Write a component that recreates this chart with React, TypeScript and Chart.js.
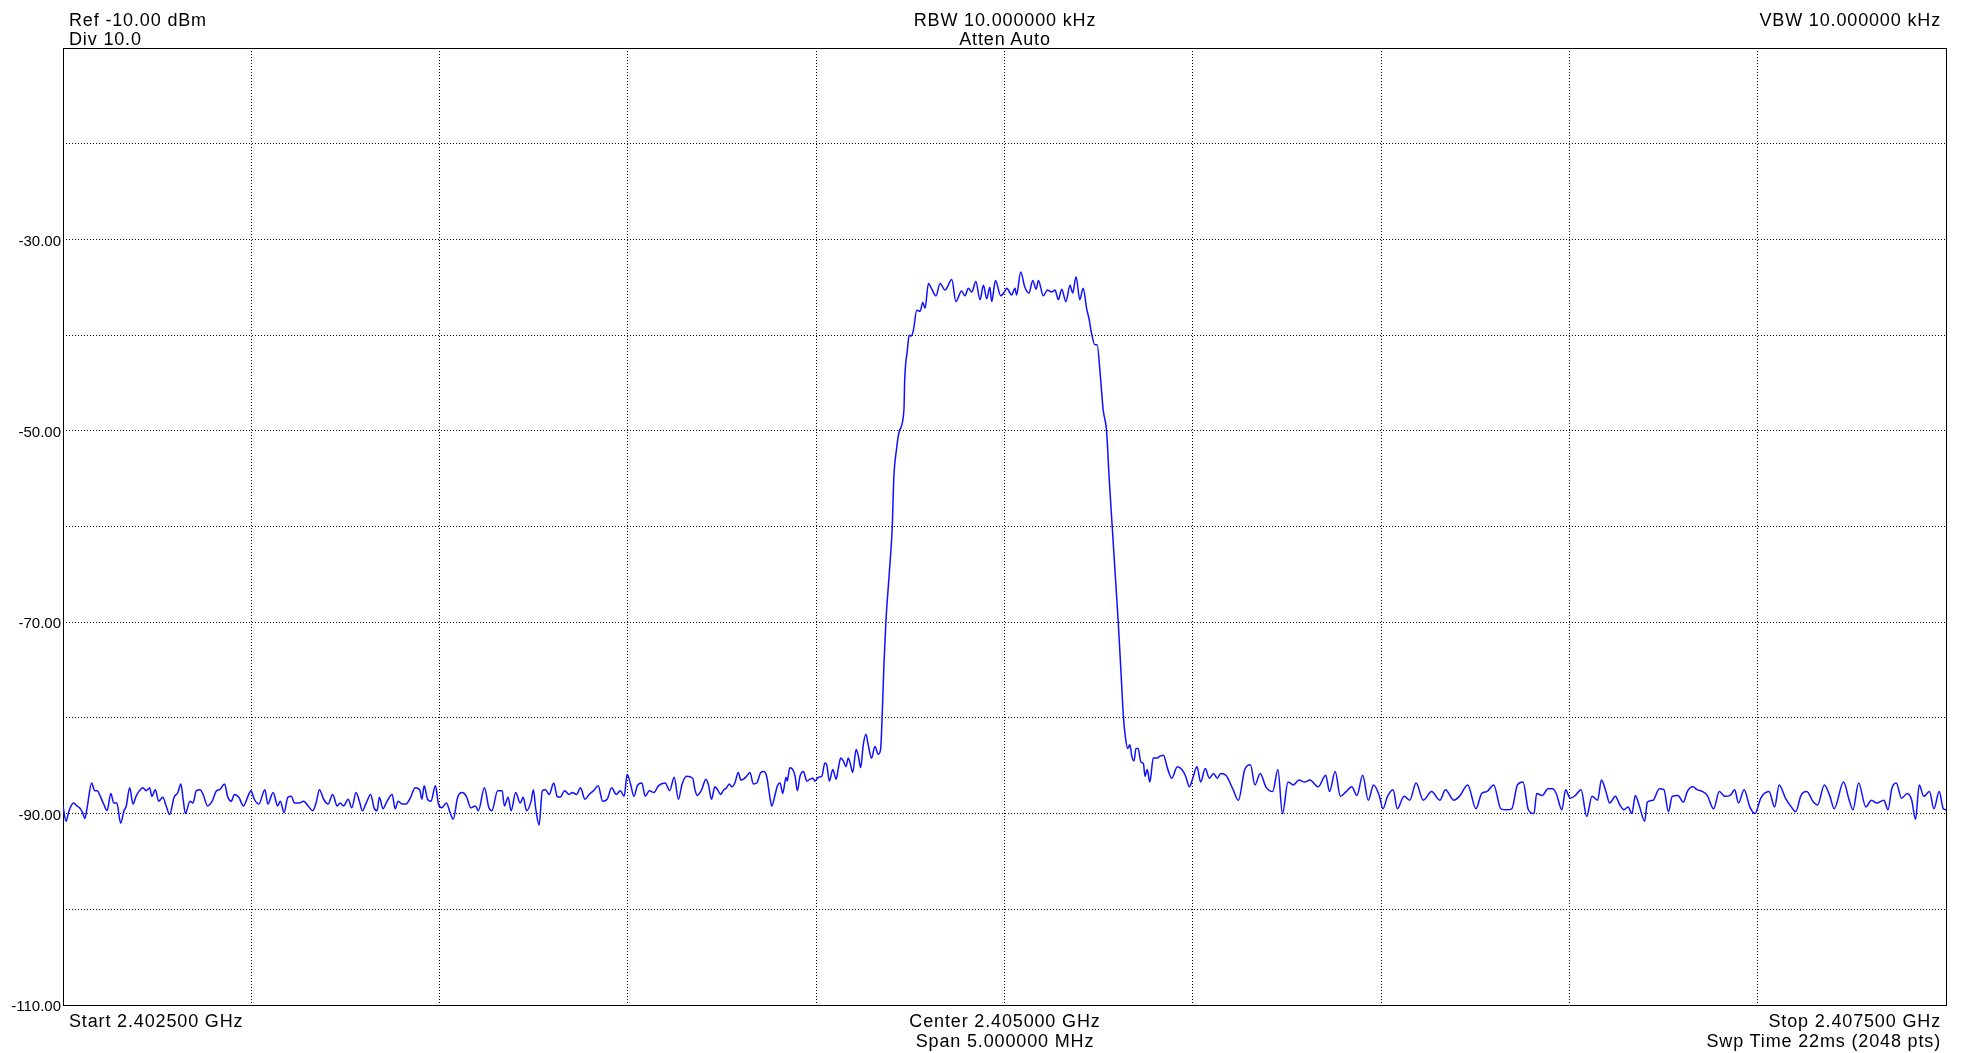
import React, { useEffect, useRef } from 'react';
import { Chart, registerables } from 'chart.js';

Chart.register(...registerables);

// ---- axis definition ----
const START_MHZ = 2402.5;
const STOP_MHZ = 2407.5;
const DIV_MHZ = 0.5;
const REF_DBM = -10;
const BOTTOM_DBM = -110;
const DIV_DB = 10;
const LABELED_LEVELS = [-30, -50, -70, -90, -110];

// ---- trace: offset from start frequency (kHz) and level (dBm) ----
const sweepOffsetKHz = [
  0, 8, 16, 28, 37, 44, 52, 58, 64, 76, 84, 91, 99, 108, 117, 127, 135, 143, 153, 162,
  168, 177, 186, 194, 203, 212, 221, 230, 236, 245, 254, 265, 274, 283, 295, 305, 313, 319, 325, 337,
  345, 354, 364, 372, 384, 396, 408, 416, 429, 437, 447, 455, 467, 479, 491, 499, 508, 520, 536, 544,
  558, 570, 577, 587, 597, 606, 615, 627, 639, 651, 663, 672, 681, 692, 704, 716, 728, 736, 745, 757,
  767, 778, 787, 795, 805, 817, 826, 834, 840, 850, 858, 874, 882, 890, 900, 911, 923, 935, 947, 953,
  959, 968, 977, 989, 997, 1006, 1018, 1028, 1036, 1048, 1060, 1071, 1083, 1095, 1103, 1119, 1131, 1139, 1154, 1166,
  1172, 1182, 1190, 1202, 1214, 1222, 1231, 1243, 1249, 1255, 1264, 1273, 1281, 1291, 1303, 1312, 1320, 1332, 1344, 1352,
  1364, 1374, 1386, 1397, 1409, 1421, 1433, 1445, 1457, 1469, 1480, 1490, 1498, 1507, 1516, 1525, 1537, 1546, 1557, 1569,
  1581, 1599, 1611, 1623, 1634, 1644, 1656,
  1672, 1678, 1684, 1696, 1707, 1714, 1722, 1731, 1738, 1746, 1753, 1762, 1769, 1776, 1784, 1793, 1800, 1807, 1815, 1824,
  1833, 1842, 1853, 1861, 1869, 1876, 1882, 1891, 1897, 1904, 1911, 1920, 1923, 1930, 1938, 1944, 1950, 1957, 1966, 1975,
  1984, 1991, 1997, 2006, 2015, 2023, 2028, 2035, 2044, 2053, 2059, 2065, 2072, 2079, 2085, 2090, 2097, 2106, 2112, 2118,
  2125, 2132, 2138, 2147, 2156, 2165, 2171,
  2175, 2180, 2185, 2194, 2202, 2206, 2213, 2221, 2233, 2235, 2242, 2247, 2252,
  2258, 2267, 2276, 2283, 2289, 2298, 2307, 2318, 2329, 2342, 2360, 2371, 2386, 2395, 2404, 2413, 2424, 2435, 2444, 2453,
  2461, 2466, 2476, 2490, 2501, 2506, 2519, 2528, 2532, 2543, 2554, 2565, 2575, 2584, 2590, 2603, 2614, 2625, 2634, 2643,
  2652, 2663, 2674, 2681, 2690, 2700, 2709, 2718, 2725, 2731,
  2740, 2746, 2754, 2762, 2771, 2778, 2786, 2794, 2802, 2809, 2816, 2821, 2827, 2833, 2838, 2844, 2849, 2855, 2862, 2869,
  2873, 2879, 2886, 2895, 2904, 2913,
  2922, 2933, 2944, 2959, 2971, 2981, 2991, 3000, 3011, 3021, 3033, 3044, 3055, 3065, 3074, 3088, 3106, 3121, 3138, 3153,
  3165, 3179, 3194, 3212, 3226, 3238, 3253, 3267, 3282, 3297, 3311, 3333, 3353, 3363, 3378, 3392, 3407, 3422, 3436, 3451,
  3466, 3480, 3495, 3505, 3517, 3532, 3543, 3561, 3576, 3593, 3612, 3634, 3656, 3671, 3693, 3708, 3730, 3752, 3767, 3781,
  3799, 3818, 3833, 3847, 3862, 3877, 3891, 3906, 3913, 3928, 3943, 3955, 3965, 3980, 3990, 4002, 4016, 4031, 4046, 4060,
  4075, 4085, 4097, 4107, 4122, 4134, 4145, 4156, 4166, 4175, 4185, 4200, 4207, 4222, 4239, 4251, 4263, 4273, 4288, 4303,
  4313, 4328, 4339, 4354, 4366, 4383, 4398, 4413, 4427, 4439, 4449, 4464, 4479, 4493, 4508, 4530, 4545, 4557, 4574, 4589,
  4601, 4615, 4630, 4648, 4659, 4677, 4692, 4703, 4728, 4743, 4753, 4768, 4787, 4802, 4816, 4835, 4846, 4856, 4868, 4882,
  4897, 4909, 4919, 4929, 4941, 4956, 4968, 4982, 4993, 5000,
];

const levelDbm = [
  -89.2, -90.8, -89.7, -88.9, -89.2, -89.4, -89.9, -90.5, -89.4, -86.8, -87.6, -87.6, -88.2, -89.0, -89.7, -87.9, -88.9, -88.9, -91.0, -89.7,
  -89.2, -87.3, -89.0, -88.2, -87.6, -87.3, -87.6, -87.3, -88.2, -87.5, -88.7, -88.3, -89.2, -90.1, -88.3, -87.8, -86.9, -88.5, -90.0, -88.7,
  -88.9, -87.6, -87.5, -88.0, -89.2, -88.7, -87.6, -87.5, -86.9, -88.2, -88.7, -88.0, -88.3, -89.2, -88.2, -87.6, -88.5, -89.0, -87.5, -89.0,
  -87.8, -89.2, -88.7, -89.9, -88.3, -88.2, -88.9, -88.9, -88.7, -89.2, -89.7, -88.9, -87.5, -88.5, -89.0, -88.0, -89.2, -88.9, -89.2, -88.5,
  -89.4, -87.8, -88.7, -89.7, -88.9, -88.0, -89.4, -89.7, -88.3, -89.5, -88.9, -88.0, -89.5, -88.7, -89.0, -89.0, -88.3, -87.3, -87.5, -88.5,
  -87.1, -88.5, -88.7, -87.1, -89.0, -89.4, -88.9, -89.9, -90.6, -88.3, -87.8, -88.2, -89.4, -89.2, -89.7, -87.3, -89.4, -89.7, -87.6, -87.6,
  -89.2, -88.3, -89.7, -87.8, -88.9, -88.3, -89.7, -88.7, -87.5, -89.4, -91.2, -87.6, -87.5, -88.0, -86.8, -88.2, -88.3, -87.6, -88.0, -87.8,
  -88.0, -87.3, -88.5, -88.0, -87.6, -87.1, -88.7, -88.5, -87.3, -88.0, -87.6, -88.2, -85.9, -86.9, -88.2, -87.1, -86.8, -88.2, -87.6, -87.8,
  -87.1, -86.8, -87.6, -86.2, -88.5, -86.9, -86.1,
  -86.3, -87.5, -88.1, -87.5, -86.4, -87.0, -88.5, -87.2, -87.5, -88.0, -87.6, -87.3, -86.9, -87.2, -86.8, -85.7, -86.5, -86.4, -86.1, -85.7,
  -86.9, -86.8, -85.7, -85.6, -86.2, -88.0, -89.2, -88.0, -87.1, -86.8, -87.9, -86.2, -86.6, -85.2, -85.4, -86.1, -87.6, -86.1, -85.6, -86.6,
  -86.4, -86.3, -86.6, -86.2, -86.1, -84.7, -84.9, -86.6, -85.4, -86.4, -85.2, -84.2, -84.5, -85.1, -84.2, -84.7, -85.7, -83.3, -84.0, -85.2,
  -82.8, -81.7, -82.8, -84.2, -83.0, -83.8, -83.3,
  -80.0, -74.3, -70.0, -64.9, -60.0, -55.0, -52.0, -50.0, -47.8, -44.7, -41.6, -40.0, -40.1,
  -39.5, -37.4, -37.5, -36.6, -37.2, -34.6, -35.2, -35.9, -34.6, -35.3, -34.2, -36.5, -35.4, -35.9, -35.1, -35.5, -34.4, -36.3, -34.8, -36.2,
  -35.0, -36.5, -34.3, -35.9, -35.4, -35.1, -35.8, -35.1, -35.8, -33.4, -35.0, -35.6, -34.3, -35.2, -34.3, -35.9, -35.3, -35.5, -35.3, -36.3,
  -35.2, -36.5, -34.8, -35.6, -33.9, -36.3, -35.1, -37.2, -38.4, -39.8,
  -41.0, -41.0, -44.0, -47.8, -50.0, -55.0, -60.0, -65.0, -70.0, -75.0, -80.0, -82.0, -83.2, -82.8, -84.0, -84.5, -83.2, -83.2, -84.6, -84.8,
  -86.1, -85.4, -86.7, -84.2, -84.2, -84.0,
  -83.9, -85.3, -86.3, -85.1, -85.4, -86.1, -87.2, -86.3, -85.1, -86.7, -85.3, -86.3, -85.8, -86.3, -85.8, -86.0, -87.4, -88.6, -85.4, -84.9,
  -87.0, -85.8, -87.2, -87.7, -85.4, -90.0, -86.7, -87.0, -86.5, -86.7, -86.5, -87.2, -86.0, -87.7, -85.6, -88.2, -87.7, -87.2, -88.1, -86.0,
  -88.6, -87.0, -88.1, -89.5, -88.2, -87.5, -89.5, -88.2, -88.6, -86.8, -88.6, -87.7, -88.6, -87.5, -88.6, -88.2, -87.0, -89.5, -87.9, -87.7,
  -87.0, -89.5, -89.6, -89.5, -87.0, -86.7, -89.6, -90.0, -87.9, -88.1, -87.4, -87.4, -87.9, -89.6, -87.5, -88.4, -88.1, -87.5, -90.3, -88.2,
  -88.6, -86.5, -87.7, -88.9, -88.2, -89.1, -89.6, -89.3, -90.0, -88.1, -89.1, -90.8, -88.8, -88.6, -87.4, -87.5, -89.8, -88.2, -88.1, -88.8,
  -87.7, -87.2, -87.5, -87.7, -88.1, -89.5, -87.7, -88.2, -88.1, -87.5, -88.9, -87.5, -89.3, -90.0, -88.4, -87.7, -89.3, -87.0, -88.4, -89.3,
  -89.8, -88.1, -87.7, -88.8, -89.1, -87.0, -88.2, -89.5, -86.7, -88.6, -89.6, -86.8, -89.3, -88.6, -88.9, -88.6, -89.6, -87.4, -86.8, -88.4,
  -87.9, -88.6, -90.6, -87.0, -88.2, -87.7, -89.5, -87.7, -89.5, -89.6,
];

// ---- annotation texts ----
const headerLeft = ['Ref -10.00 dBm', 'Div 10.0'];
const headerCenter = ['RBW 10.000000 kHz', 'Atten Auto'];
const headerRight = ['VBW 10.000000 kHz'];
const footerLeft = ['Start 2.402500 GHz'];
const footerCenter = ['Center 2.405000 GHz', 'Span 5.000000 MHz'];
const footerRight = ['Stop 2.407500 GHz', 'Swp Time 22ms (2048 pts)'];

const W = 1967;
const H = 1053;
const FONT = '"Liberation Sans", Arial, sans-serif';

const framePlugin = {
  id: 'frame',
  beforeDatasetsDraw(chart: any) {
    const { ctx, chartArea } = chart;
    ctx.save();
    ctx.strokeStyle = '#000';
    ctx.lineWidth = 1;
    ctx.setLineDash([]);
    ctx.strokeRect(chartArea.left + 0.5, chartArea.top + 0.5, chartArea.right - chartArea.left, chartArea.bottom - chartArea.top);
    ctx.restore();
  },
};

const textBase: React.CSSProperties = {
  position: 'absolute',
  fontFamily: FONT,
  fontSize: 18,
  lineHeight: '18px',
  letterSpacing: '0.85px',
  color: '#000',
  whiteSpace: 'nowrap',
};

export default function App() {
  const canvasRef = useRef<HTMLCanvasElement | null>(null);

  useEffect(() => {
    const canvas = canvasRef.current;
    if (!canvas) return;
    const points = sweepOffsetKHz.map((k, i) => ({ x: START_MHZ + k / 1000, y: levelDbm[i] }));
    const gridCommon = { color: '#000', lineWidth: 1, drawTicks: false };
    const borderCommon = { display: false, color: '#000', width: 1, dash: [1, 2] };
    const chart = new Chart(canvas, {
      type: 'line',
      data: {
        datasets: [
          {
            data: points,
            borderColor: '#1010ff',
            borderWidth: 1.5,
            pointRadius: 0,
            cubicInterpolationMode: 'monotone',
            fill: false,
          },
        ],
      },
      options: {
        animation: false,
        responsive: false,
        maintainAspectRatio: false,
        events: [],
        layout: { padding: { left: 0, top: 48, right: 21, bottom: 48 } },
        plugins: { legend: { display: false }, tooltip: { enabled: false }, title: { display: false } },
        scales: {
          x: {
            type: 'linear',
            min: START_MHZ,
            max: STOP_MHZ,
            ticks: { display: false, stepSize: DIV_MHZ, autoSkip: false },
            grid: gridCommon,
            border: borderCommon,
            afterFit: (s: any) => {
              s.height = 0;
            },
          },
          y: {
            type: 'linear',
            min: BOTTOM_DBM,
            max: REF_DBM,
            ticks: {
              stepSize: DIV_DB,
              autoSkip: false,
              padding: 2,
              labelOffset: 2,
              color: '#000',
              font: { family: FONT, size: 15 },
              callback: (v: any) => (LABELED_LEVELS.includes(Number(v)) ? Number(v).toFixed(2) : ''),
            },
            grid: gridCommon,
            border: borderCommon,
            afterFit: (s: any) => {
              s.width = 63;
            },
          },
        },
      } as any,
      plugins: [framePlugin],
    });
    return () => chart.destroy();
  }, []);

  return (
    <div style={{ position: 'absolute', left: 0, top: 0, width: W, height: H, background: '#fff', overflow: 'hidden' }}>
      <canvas ref={canvasRef} width={W} height={H} style={{ position: 'absolute', left: 0, top: 0, width: W, height: H }} />
      {headerLeft.map((t, i) => (
        <div key={'hl' + i} style={{ ...textBase, left: 69, top: 11 + i * 19 }}>{t}</div>
      ))}
      {headerCenter.map((t, i) => (
        <div key={'hc' + i} style={{ ...textBase, left: 1005, top: 11 + i * 19, transform: 'translateX(-50%)' }}>{t}</div>
      ))}
      {headerRight.map((t, i) => (
        <div key={'hr' + i} style={{ ...textBase, right: W - 1941, top: 11 + i * 19 }}>{t}</div>
      ))}
      {footerLeft.map((t, i) => (
        <div key={'fl' + i} style={{ ...textBase, left: 69, top: 1012 + i * 20 }}>{t}</div>
      ))}
      {footerCenter.map((t, i) => (
        <div key={'fc' + i} style={{ ...textBase, left: 1005, top: 1012 + i * 20, transform: 'translateX(-50%)' }}>{t}</div>
      ))}
      {footerRight.map((t, i) => (
        <div key={'fr' + i} style={{ ...textBase, right: W - 1941, top: 1012 + i * 20 }}>{t}</div>
      ))}
    </div>
  );
}
